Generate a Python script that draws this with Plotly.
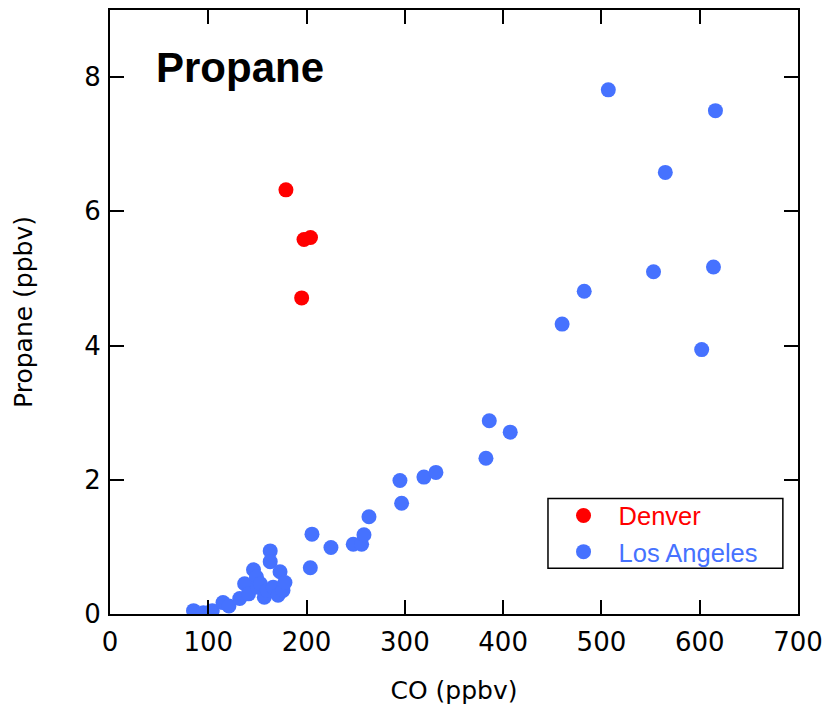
import plotly.graph_objects as go

# CO and propane mixing ratios (ppbv)
denver_co = [179, 197.4, 204, 195]
denver_propane = [6.32, 5.58, 5.61, 4.71]

la_co = [85, 95, 104, 115, 121, 132, 137, 141, 146, 149, 150, 153, 157, 160,
         163, 163, 166, 171, 173, 176, 178,
         203.8, 205.5, 224.8, 247.5, 256, 258.4, 263.5, 295, 296.7, 319.4,
         331.6, 382.5, 385.9, 407.2, 460, 482.5, 507, 553, 565, 602, 614, 616]
la_propane = [0.05, 0.02, 0.05, 0.17, 0.12, 0.23, 0.45, 0.30, 0.66, 0.55, 0.40,
              0.45, 0.25, 0.35, 0.94, 0.78, 0.40, 0.28, 0.63, 0.35, 0.47,
              0.69, 1.19, 0.99, 1.04, 1.04, 1.18, 1.45, 1.99, 1.65, 2.04,
              2.11, 2.32, 2.88, 2.71, 4.32, 4.81, 7.81, 5.10, 6.58, 3.94, 5.17, 7.50]

x_ticks = [0, 100, 200, 300, 400, 500, 600, 700]
y_ticks = [0, 2, 4, 6, 8]

RED = "#FF0000"
BLUE = "#4672FF"
TICK_FONT = dict(family="DejaVu Sans", size=26, color="black")
TITLE_FONT = dict(family="DejaVu Sans", size=25, color="black")

fig = go.Figure()
fig.add_trace(go.Scatter(
    x=denver_co, y=denver_propane, mode="markers",
    name=f'<span style="color:{RED}">Denver</span>',
    marker=dict(color=RED, size=15, line=dict(width=0)),
))
fig.add_trace(go.Scatter(
    x=la_co, y=la_propane, mode="markers",
    name=f'<span style="color:{BLUE}">Los Angeles</span>',
    marker=dict(color=BLUE, size=15, line=dict(width=0)),
))

axis_common = dict(
    showline=True, linecolor="black", linewidth=2, mirror="ticks",
    ticks="inside", ticklen=14, tickwidth=1.5, tickcolor="black",
    showgrid=False, zeroline=False, tickfont=TICK_FONT,
)

fig.update_xaxes(
    range=[0, 700], tickvals=x_ticks, ticktext=[str(v) for v in x_ticks],
    title=dict(text="CO (ppbv)", font=TITLE_FONT, standoff=25),
    ticklabelstandoff=4,
    **axis_common,
)
fig.update_yaxes(
    range=[0, 9], tickvals=y_ticks, ticktext=[str(v) for v in y_ticks],
    title=dict(text="Propane (ppbv)", font=TITLE_FONT, standoff=45),
    ticklabelstandoff=2,
    **axis_common,
)

# Chart heading inside the plot frame
fig.add_annotation(
    text="<b>Propane</b>", xref="paper", yref="paper",
    x=0.064, y=0.904, xanchor="left", yanchor="middle", showarrow=False,
    font=dict(family="Liberation Sans", size=42, color="black"),
)

# Frame drawn around the legend entries
fig.add_shape(
    type="rect", xref="paper", yref="paper",
    x0=0.6366, x1=0.978, y0=0.0759, y1=0.1914,
    line=dict(color="black", width=1.5), fillcolor="white", layer="below",
)

fig.update_layout(
    width=831, height=722,
    margin=dict(l=110, r=33, t=8, b=108),
    paper_bgcolor="white", plot_bgcolor="white",
    showlegend=True,
    legend=dict(
        x=0.6374, y=0.2013, xanchor="left", yanchor="top",
        borderwidth=0, bgcolor="rgba(0,0,0,0)",
        font=dict(family="Liberation Sans", size=25.5),
        itemwidth=60, tracegroupgap=0,
    ),
)

fig.write_html("out.html")
